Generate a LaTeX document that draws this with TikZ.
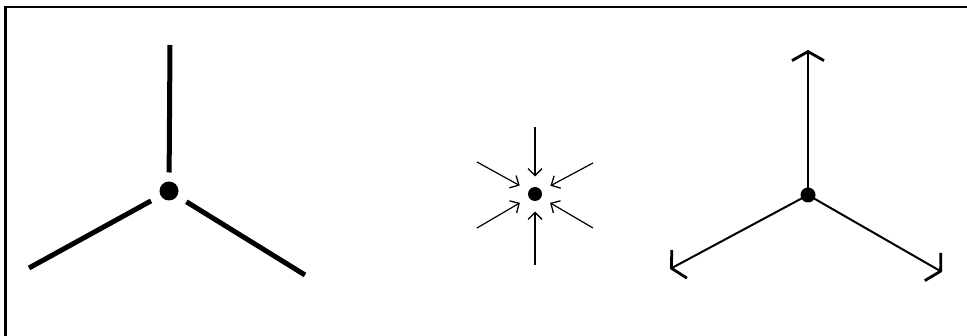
\documentclass[tikz,border=0pt]{standalone}
\usetikzlibrary{arrows.meta}
\begin{document}
\begin{tikzpicture}[x=1pt,y=-1pt,
  dotnode/.style={circle,fill=black,inner sep=0pt,minimum size=#1},
  thickbar/.style={line width=5pt,line cap=butt,black},
  inarrow/.style={line width=1.2pt,-{Straight Barb[length=7pt,width=14pt,line width=1.3pt]}},
  outarrow/.style={line width=2pt,-{Straight Barb[length=9pt,width=32pt,line width=2.8pt]}},
  frameline/.style={line width=2.8pt,line join=miter}]
\useasboundingbox (0,0) rectangle (967,336);
\fill[white] (0,0) rectangle (967,336);
% frame
\coordinate (fr1) at (967,7);
\coordinate (fr2) at (5.5,7);
\coordinate (fr3) at (5.5,336);
\draw[frameline] (fr1) -- (fr2) -- (fr3);

% left figure
\node[dotnode=19pt,outer sep=9pt] (L) at (169,191) {};
\coordinate (Lt) at (170,45);
\coordinate (Lll) at (29,268);
\coordinate (Llr) at (305,275);
\draw[thickbar] (Lt) -- (L);
\draw[thickbar,shorten >=2pt] (Lll) -- (L);
\draw[thickbar,shorten >=2pt] (Llr) -- (L);

% middle figure
\node[dotnode=14pt,outer sep=10.5pt] (M) at (535,194) {};
\coordinate (Mt) at (535,127);
\coordinate (Mb) at (535,265);
\coordinate (Mul) at (477,162);
\coordinate (Mur) at (593,163);
\coordinate (Mll) at (477,228);
\coordinate (Mlr) at (593,228);
\foreach \c in {Mt,Mb,Mul,Mur,Mll,Mlr}
  \draw[inarrow] (\c) -- (M);

% right figure
\node[dotnode=15pt] (R) at (808,195) {};
\coordinate (Rt) at (808,50);
\coordinate (Rll) at (670,269);
\coordinate (Rlr) at (942,272);
\draw[outarrow] (R.center) -- (Rt);
\draw[outarrow] (R.center) -- (Rll);
\draw[outarrow] (R.center) -- (Rlr);
\end{tikzpicture}
\end{document}
